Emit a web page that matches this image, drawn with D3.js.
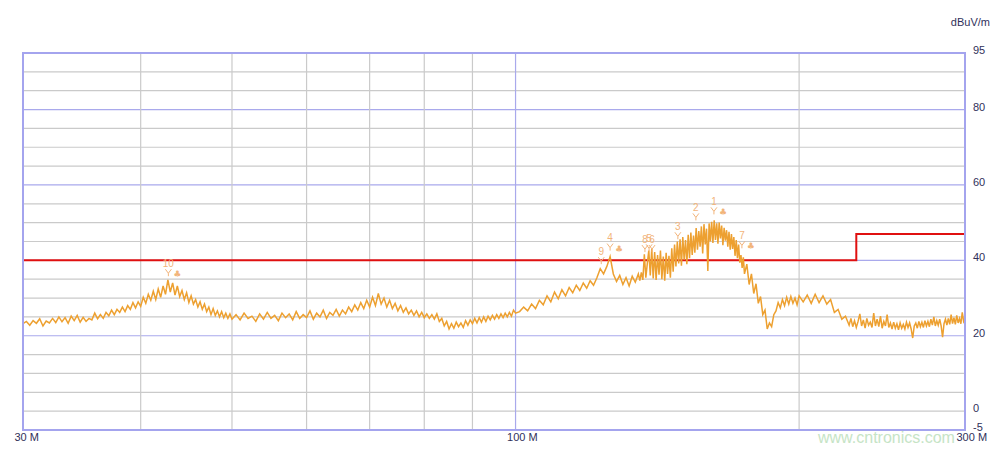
<!DOCTYPE html>
<html>
<head>
<meta charset="utf-8">
<script src="https://cdn.jsdelivr.net/npm/d3@7/dist/d3.min.js"></script>
<style>
  html, body { margin: 0; padding: 0; background: #ffffff; }
  svg { display: block; }
</style>
</head>
<body>
<svg id="chart" width="1001" height="452"></svg>
<script>
// ---------------- DATA ----------------
const unitLabel = "dBuV/m";
const yTickLabels = [95, 80, 60, 40, 20, 0, -5];
const xTickLabels = [30, 100, 300];
const gridDb = [90, 85, 80, 75, 70, 65, 60, 55, 50, 45, 40, 35, 30, 25, 20, 15, 10, 5, 0];
const majorGridDb = [80, 60, 40, 20];
const gridFreq = [40, 50, 60, 70, 80, 90, 100, 200];
const majorGridFreq = [100];

// limit line (MHz, dBuV/m)
const limitFreq = [30, 230, 230, 300];
const limitDb = [40, 40, 47, 47];

const trace = [
  [30.0,23.2],[30.25,23.8],[30.5,22.8],[30.75,24.0],[31.0,23.3],[31.25,24.5],[31.5,22.6],[31.75,23.9],
  [32.0,23.4],[32.25,24.6],[32.5,23.5],[32.75,25.0],[33.0,23.7],[33.25,24.8],[33.5,23.3],[33.75,25.2],
  [34.0,24.0],[34.25,25.4],[34.5,23.6],[34.75,24.9],[35.0,23.8],[35.25,24.6],[35.5,24.2],[35.75,26.0],
  [36.0,24.5],[36.25,25.6],[36.5,24.6],[36.75,26.2],[37.0,25.3],[37.25,26.8],[37.5,25.6],[37.75,27.0],
  [38.0,26.2],[38.25,27.6],[38.5,26.4],[38.75,28.0],[39.0,27.0],[39.25,28.8],[39.5,27.4],[39.75,29.0],
  [40.0,27.8],[40.25,30.2],[40.5,28.6],[40.75,31.0],[41.0,29.4],[41.25,31.8],[41.5,29.6],[41.75,32.4],
  [42.0,30.2],[42.25,33.2],[42.5,31.0],[42.75,34.8],[43.0,31.6],[43.25,34.0],[43.5,30.8],[43.75,33.2],
  [44.0,30.4],[44.25,32.0],[44.5,29.6],[44.75,31.4],[45.0,28.8],[45.25,30.6],[45.5,28.4],[45.75,29.6],
  [46.0,27.6],[46.25,29.0],[46.5,27.0],[46.75,28.4],[47.0,26.4],[47.25,27.6],[47.5,25.6],[47.75,27.2],
  [48.0,25.4],[48.25,26.6],[48.5,25.0],[48.75,26.4],[49.0,24.8],[49.25,26.0],[49.5,24.6],[49.75,25.8],
  [50.0,24.4],[50.5,25.6],[51.0,24.2],[51.5,26.0],[52.0,24.6],[52.5,25.2],[53.0,23.8],[53.5,25.8],
  [54.0,24.4],[54.5,26.2],[55.0,24.6],[55.5,25.4],[56.0,24.0],[56.5,26.0],[57.0,24.8],[57.5,25.8],
  [58.0,24.2],[58.5,26.4],[59.0,24.6],[59.5,25.6],[60.0,24.8],[60.5,26.6],[61.0,24.4],[61.5,26.0],
  [62.0,25.0],[62.5,26.8],[63.0,24.6],[63.5,26.2],[64.0,25.4],[64.5,27.0],[65.0,25.2],[65.5,26.8],
  [66.0,25.8],[66.5,27.6],[67.0,26.4],[67.5,28.2],[68.0,26.8],[68.5,28.8],[69.0,27.2],[69.5,29.4],
  [70.0,27.6],[70.5,30.2],[71.0,28.0],[71.5,31.2],[72.0,28.4],[72.5,30.0],[73.0,27.6],[73.5,29.4],
  [74.0,27.2],[74.5,28.6],[75.0,26.6],[75.5,28.0],[76.0,26.2],[76.5,27.4],[77.0,25.8],[77.5,26.8],
  [78.0,25.4],[78.5,26.6],[79.0,25.0],[79.5,26.2],[80.0,24.8],[80.5,25.8],[81.0,24.6],[81.5,25.6],
  [82.0,24.4],[82.5,25.8],[83.0,23.8],[83.5,24.6],[84.0,22.6],[84.5,23.8],[85.0,21.8],[85.5,23.2],
  [86.0,22.0],[86.5,23.6],[87.0,22.4],[87.5,23.4],[88.0,22.2],[88.5,24.0],[89.0,22.8],[89.5,24.2],
  [90.0,23.2],[90.5,24.6],[91.0,23.4],[91.5,24.8],[92.0,23.6],[92.5,25.0],[93.0,23.8],[93.5,25.2],
  [94.0,24.2],[94.5,25.4],[95.0,24.4],[95.5,25.6],[96.0,24.6],[96.5,25.8],[97.0,24.8],[97.5,26.0],
  [98.0,25.0],[98.5,26.2],[99.0,25.2],[99.5,26.8],[100.0,26.0],
  [101,26.4],[102,27.6],[103,26.6],[104,28.4],[105,27.2],[106,29.4],[107,28.2],[108,30.6],
  [109,29.0],[110,31.6],[111,29.8],[112,32.2],[113,30.6],[114,32.8],[115,31.4],[116,33.4],
  [117,32.0],[118,34.0],[119,32.6],[120,34.6],[121,33.4],[122,35.4],[123,37.8],[124,36.4],
  [125,38.4],[126,41.0],[127,36.4],[128,34.4],[129,36.0],[130,33.6],[131,35.4],[132,33.2],
  [133,35.8],[134,34.2],[135,36.4],
  [135.5,34.6],[136.0,36.8],[136.5,34.8],[137.0,41.6],[137.5,35.4],[138.0,39.2],[138.5,42.6],[139.0,36.0],
  [139.5,43.0],[140.0,35.2],[140.5,42.2],[141.0,34.8],[141.5,41.4],[142.0,36.2],[142.5,42.6],[143.0,35.0],
  [143.5,41.0],[144.0,34.6],[144.5,42.0],[145.0,36.4],[145.5,41.2],[146.0,35.4],[146.5,43.2],[147.0,37.0],
  [147.5,44.2],[148.0,38.4],[148.5,45.0],[149.0,39.2],[149.5,45.6],[150.0,38.6],[150.5,46.2],[151.0,40.2],
  [151.5,45.4],[152.0,39.0],[152.5,46.8],[153.0,40.6],[153.5,47.4],[154.0,41.4],[154.5,46.6],[155.0,42.0],
  [155.5,48.6],[156.0,42.8],[156.5,47.8],[157.0,43.6],[157.5,49.0],[158.0,41.8],[158.5,49.6],[159.0,44.2],
  [159.5,48.4],[160.0,37.2],[160.5,49.8],[161.0,45.0],[161.5,50.2],[162.0,44.6],[162.5,50.6],[163.0,45.4],
  [163.5,49.8],[164.0,44.4],[164.5,50.0],[165.0,45.8],[165.5,49.2],[166.0,44.0],[166.5,48.6],[167.0,45.2],
  [167.5,48.0],[168.0,43.6],[168.5,47.6],[169.0,42.8],[169.5,47.0],[170.0,43.0],[170.5,46.2],[171.0,41.2],
  [171.5,45.4],[172.0,40.6],[172.5,44.2],[173.0,39.4],[173.5,41.4],[174.0,38.0],[174.5,40.8],[175.0,36.4],
  [176,39.0],[177,33.6],[178,36.4],[179,31.2],[180,33.8],[181,28.6],[182,30.4],[183,25.6],
  [184,26.8],[185,21.8],[186,23.4],[187,22.4],[188,25.6],[189,26.6],[190,28.8],[191,27.4],
  [192,29.6],[193,28.0],[194,30.2],[195,28.4],[196,30.4],[197,28.6],[198,30.0],[199,28.2],[200,30.6],
  [202,29.0],[204,30.8],[206,28.6],[208,31.0],[210,28.8],[212,30.6],[214,28.4],[216,29.6],
  [218,26.2],[220,27.0],[222,24.4],[224,25.2],
  [226,22.8],[227,24.6],[228,22.4],[229,24.0],[230,22.2],[231,23.8],[232,25.8],[233,22.6],
  [234,24.2],[235,22.0],[236,24.6],[237,22.8],[238,23.6],[239,22.2],[240,26.0],[241,22.6],
  [242,24.4],[243,22.4],[244,25.2],[245,22.0],[246,23.8],[247,22.6],[248,25.6],[249,22.2],
  [250,23.4],[251,21.8],[252,23.6],[253,22.0],[254,23.2],[255,21.6],[256,23.4],[257,22.0],
  [258,23.0],[259,21.8],[260,23.6],[261,22.2],[262,23.4],[263,21.8],[264,19.4],[265,22.6],
  [266,23.4],[267,22.0],[268,23.8],[269,22.4],[270,23.6],[271,22.2],[272,24.0],[273,22.6],
  [274,23.8],[275,22.4],[276,24.4],[277,22.8],[278,25.0],[279,22.6],[280,24.0],[281,22.8],
  [282,24.4],[283,22.6],[284,19.6],[285,23.2],[286,24.4],[287,22.8],[288,24.6],[289,23.0],
  [290,25.6],[291,23.2],[292,24.8],[293,23.0],[294,25.4],[295,23.4],[296,24.6],[297,23.2],
  [298,26.2],[299,23.8],[300,24.6]
];

// markers
const markerIds  = ["1", "2", "3", "4", "5", "6", "7", "8", "9", "10"];
const markerFreq = [162.4, 155.4, 148.7, 126.0, 138.6, 139.6, 173.9, 137.2, 123.3, 42.8];
const markerDb   = [50.6, 49.0, 44.0, 41.0, 40.8, 40.6, 41.6, 40.6, 37.4, 34.2];
const markerClub = [true, false, false, true, false, false, true, false, false, true];

// ---------------- DRAW ----------------
const svg = d3.select("#chart");
const x = d3.scaleLog().domain([30, 300]).range([23, 965]);
const y = d3.scaleLinear().domain([-5, 95]).range([430, 53]);

const gridG = svg.append("g");
gridG.selectAll("line.h").data(gridDb).join("line")
  .attr("x1", x(30)).attr("x2", x(300))
  .attr("y1", d => y(d)).attr("y2", d => y(d))
  .attr("stroke", d => majorGridDb.includes(d) ? "#a9a9ec" : "#cacaca")
  .attr("stroke-width", 1.2);
gridG.selectAll("line.v").data(gridFreq).join("line")
  .attr("y1", y(95)).attr("y2", y(-5))
  .attr("x1", d => x(d)).attr("x2", d => x(d))
  .attr("stroke", d => majorGridFreq.includes(d) ? "#a9a9ec" : "#cacaca")
  .attr("stroke-width", 1.2);

// limit
const limitPts = limitFreq.map((f, i) => [f, limitDb[i]]);
svg.append("path").datum(limitPts)
  .attr("fill", "none").attr("stroke", "#e01010").attr("stroke-width", 2)
  .attr("d", d3.line().x(d => x(d[0])).y(d => y(d[1])));

// trace
svg.append("path").datum(trace)
  .attr("fill", "none").attr("stroke", "#eda030").attr("stroke-width", 1.5)
  .attr("stroke-linejoin", "miter")
  .attr("d", d3.line().x(d => x(d[0])).y(d => y(d[1])));

// border
svg.append("rect")
  .attr("x", x(30)).attr("y", y(95))
  .attr("width", x(300) - x(30)).attr("height", y(-5) - y(95))
  .attr("fill", "none").attr("stroke", "#a4a4ee").attr("stroke-width", 2);

// markers
const mkColor = "#f2b47a";
const mk = svg.append("g");
markerIds.forEach((id, i) => {
  const mx = x(markerFreq[i]), my = y(markerDb[i]);
  mk.append("text").attr("x", mx).attr("y", my - 19)
    .attr("text-anchor", "middle").attr("dominant-baseline", "central")
    .attr("font-family", "Liberation Sans, Arial, sans-serif").attr("font-size", 10)
    .attr("fill", mkColor).text(id);
  mk.append("path")
    .attr("d", `M${mx - 3},${my - 13} L${mx},${my - 9} L${mx + 3},${my - 13} M${mx},${my - 9} L${mx},${my - 6}`)
    .attr("fill", "none").attr("stroke", mkColor).attr("stroke-width", 1);
  if (markerClub[i]) {
    mk.append("text").attr("x", mx + 9).attr("y", my - 8)
      .attr("text-anchor", "middle").attr("dominant-baseline", "central")
      .attr("font-family", "DejaVu Sans, sans-serif").attr("font-size", 9)
      .attr("fill", mkColor).text("\u2663");
  }
});

// watermark
svg.append("text").attr("x", 818).attr("y", 443)
  .attr("font-family", "Liberation Sans, Arial, sans-serif").attr("font-size", 16)
  .attr("fill", "#c6e4c6").text("www.cntronics.com");

// axes
const textColor = "#30305a";
const yAxis = svg.append("g").attr("transform", `translate(${x(300)},0)`)
  .call(d3.axisRight(y).tickValues(yTickLabels).tickSize(0).tickPadding(8).tickFormat(d => String(d)));
yAxis.select(".domain").remove();
yAxis.selectAll("text").attr("dy", "0.0em").attr("dominant-baseline", "central")
  .attr("transform", "translate(0,-3.5)")
  .attr("font-family", "Liberation Sans, Arial, sans-serif").attr("font-size", 11).attr("fill", textColor);

const xAxis = svg.append("g").attr("transform", `translate(0,${y(-5)})`)
  .call(d3.axisBottom(x).tickValues(xTickLabels).tickSize(0).tickPadding(3).tickFormat(d => d + " M"));
xAxis.select(".domain").remove();
xAxis.selectAll("text").attr("text-anchor", "start").attr("dx", -9)
  .attr("font-family", "Liberation Sans, Arial, sans-serif").attr("font-size", 11).attr("fill", textColor);

svg.append("text").attr("x", 990).attr("y", 22).attr("text-anchor", "end")
  .attr("dominant-baseline", "central")
  .attr("font-family", "Liberation Sans, Arial, sans-serif").attr("font-size", 11)
  .attr("fill", textColor).text(unitLabel);
</script>
</body>
</html>
